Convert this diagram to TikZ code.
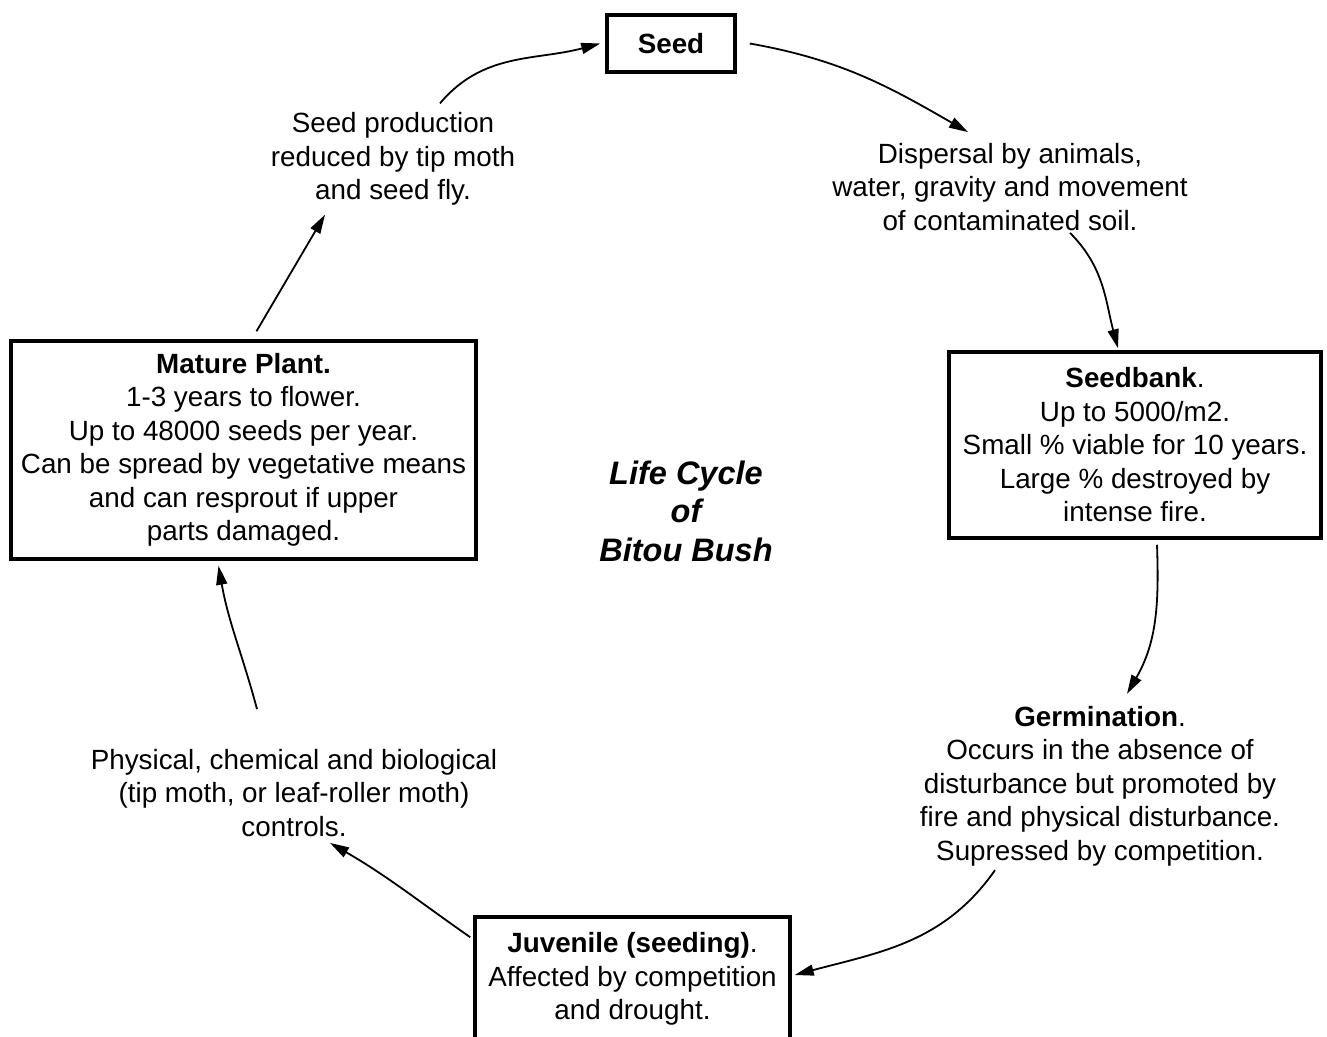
\documentclass[tikz,border=0pt]{standalone}
\usepackage{fontspec}
\setmainfont{Liberation Sans}
\usetikzlibrary{arrows.meta}
\begin{document}
\begin{tikzpicture}[x=1pt,y=1pt,
		every node/.style={font=\fontsize{27.8}{33.5}\selectfont},
		box/.style={draw,line width=3.5pt,align=center,inner sep=0pt},
		txt/.style={align=center,inner sep=0pt},
		arr/.style={line width=1.8pt,-{Triangle[length=19pt,width=11pt]}}]
		\useasboundingbox (0,0) rectangle (1327,-1036);
		
		\node [box,minimum width=128,minimum height=57] (seed) at (671,-43.5) {\textbf{Seed}};
		\node [box,minimum width=465,minimum height=218] (mature) at (243.5,-450) {\textbf{Mature Plant.}\\1-3 years to flower.\\Up to 48000 seeds per year.\\Can be spread by vegetative means\\and can resprout if upper\\parts damaged.};
		\node [box,minimum width=372,minimum height=186] (sbank) at (1135,-445) {\textbf{Seedbank}.\\Up to 5000/m2.\\Small \% viable for 10 years.\\Large \% destroyed by\\intense fire.};
		\node [box,minimum width=315,minimum height=124] (juv) at (632.5,-979) {\textbf{Juvenile (seeding)}.\\Affected by competition\\and drought.};
		
		\node [txt] (prod) at (393,-159) {Seed production\\reduced by tip moth\\and seed fly.};
		\node [txt] (disp) at (1010,-187) {Dispersal by animals,\\water, gravity and movement\\of contaminated soil.};
		\node [txt] (germ) at (1100,-786) {\textbf{Germination}.\\Occurs in the absence of\\disturbance but promoted by\\fire and physical disturbance.\\Supressed by competition.};
		\node [txt] (phys) at (294,-793) {Physical, chemical and biological\\(tip moth, or leaf-roller moth)\\controls.};
		\node [txt,font=\fontsize{32.5}{38.5}\selectfont\bfseries\itshape] (life) at (686,-511) {Life Cycle\\of\\Bitou Bush};
		
		\draw [arr] ([xshift=13pt]seed.east) to[out=-10,in=150] ([xshift=-42pt,yshift=11pt]disp.north);
		\draw [arr] ([xshift=60pt,yshift=-2pt]disp.south) to[out=-45,in=105] ([xshift=-17pt,yshift=2pt]sbank.north);
		\draw [arr] ([xshift=22pt,yshift=-5pt]sbank.south) to[out=-88,in=60] ([xshift=27pt,yshift=12pt]germ.north);
		\draw [arr] ([xshift=-105pt,yshift=-4pt]germ.south) to[out=-125,in=15] ([xshift=3pt,yshift=4pt]juv.east);
		\draw [arr] ([xshift=-3pt,yshift=-22pt]juv.north west) to[out=145,in=-30] ([xshift=36pt,yshift=-6pt]phys.south);
		\draw [arr] ([xshift=-37pt,yshift=40pt]phys.north) to[out=105,in=-80] ([xshift=-25pt,yshift=-5pt]mature.south);
		\draw [arr] ([xshift=13pt,yshift=8pt]mature.north) -- ([xshift=-68pt,yshift=-9pt]prod.south);
		\draw [arr] ([xshift=47pt,yshift=9pt]prod.north) to[out=50,in=195] ([xshift=-5pt]seed.west);
	\end{tikzpicture}
\end{document}
